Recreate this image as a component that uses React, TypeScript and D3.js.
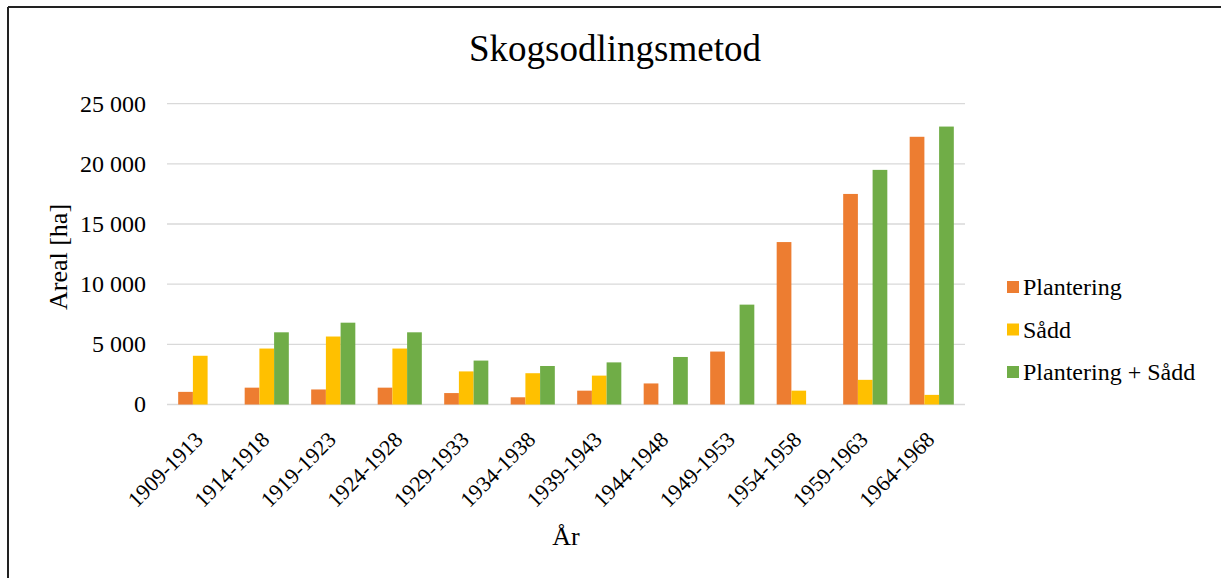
import { useMemo } from 'react';
import * as d3 from 'd3';

const categories = [
  '1909-1913', '1914-1918', '1919-1923', '1924-1928', '1929-1933', '1934-1938',
  '1939-1943', '1944-1948', '1949-1953', '1954-1958', '1959-1963', '1964-1968',
];
const seriesNames = ['Plantering', 'Sådd', 'Plantering + Sådd'];
const plantering = [1050, 1400, 1250, 1400, 950, 600, 1150, 1750, 4400, 13500, 17500, 22250];
const sadd = [4050, 4650, 5650, 4650, 2750, 2600, 2400, 0, 0, 1150, 2050, 800];
const plantSadd = [0, 6000, 6800, 6000, 3650, 3200, 3500, 3950, 8300, 0, 19500, 23100];
const colors = ['#ED7D31', '#FFC000', '#70AD47'];
const yTicks = [0, 5000, 10000, 15000, 20000, 25000];

const W = 1221;
const H = 578;
const FONT = '"Liberation Serif", "Times New Roman", serif';

const fmt = (v: number) => d3.format(',')(v).replace(/,/g, ' ');

export default function App() {
  const series = [plantering, sadd, plantSadd];

  const { x0, x1, y } = useMemo(() => {
    const x0 = d3.scaleBand<string>().domain(categories).range([167, 965]).padding(0);
    const x1 = d3.scaleBand<string>()
      .domain(seriesNames)
      .range([0, x0.bandwidth()])
      .paddingInner(0)
      .paddingOuter(0.76);
    const y = d3.scaleLinear().domain([0, 25000]).range([404.5, 103.7]);
    return { x0, x1, y };
  }, []);

  return (
    <svg
      width={W}
      height={H}
      style={{ position: 'absolute', left: 0, top: 0, background: '#fff' }}
      fontFamily={FONT}
    >
      <rect x={0} y={0} width={W} height={H} fill="#fff" />
      {/* outer frame (top and left edges visible) */}
      <line x1={8} y1={7} x2={W} y2={7} stroke="#222" strokeWidth={2} />
      <line x1={8} y1={7} x2={8} y2={H} stroke="#222" strokeWidth={2} />

      <text x={615} y={61} textAnchor="middle" fontSize={37} fill="#000">
        Skogsodlingsmetod
      </text>

      {/* grid */}
      {yTicks.map(t => (
        <g key={t}>
          <line
            x1={167}
            x2={965}
            y1={y(t)}
            y2={y(t)}
            stroke="#d9d9d9"
            strokeWidth={t === 0 ? 1.6 : 1.3}
          />
          <text x={146} y={y(t)} dy="0.33em" textAnchor="end" fontSize={24} fill="#000">
            {fmt(t)}
          </text>
        </g>
      ))}

      {/* bars */}
      {categories.map((c, i) => (
        <g key={c} transform={`translate(${x0(c)},0)`}>
          {series.map((s, j) =>
            s[i] > 0 ? (
              <rect
                key={j}
                x={x1(seriesNames[j])}
                y={y(s[i])}
                width={x1.bandwidth()}
                height={y(0) - y(s[i])}
                fill={colors[j]}
              />
            ) : null
          )}
        </g>
      ))}

      {/* x labels */}
      {categories.map(c => {
        const cx = (x0(c) || 0) + x0.bandwidth() / 2 + 4;
        return (
          <text
            key={c}
            transform={`translate(${cx},441) rotate(-45)`}
            textAnchor="end"
            fontSize={22}
            fill="#000"
          >
            {c}
          </text>
        );
      })}

      {/* axis titles */}
      <text x={566} y={545} textAnchor="middle" fontSize={26} fill="#000">
        År
      </text>
      <text
        transform="translate(67,257) rotate(-90)"
        textAnchor="middle"
        fontSize={26}
        fill="#000"
      >
        Areal [ha]
      </text>

      {/* legend */}
      {seriesNames.map((n, i) => (
        <g key={n} transform={`translate(1007,${295 + i * 42.5})`}>
          <rect x={0} y={-14} width={12} height={12} fill={colors[i]} />
          <text x={16} y={0} fontSize={24} fill="#000">
            {n}
          </text>
        </g>
      ))}
    </svg>
  );
}
